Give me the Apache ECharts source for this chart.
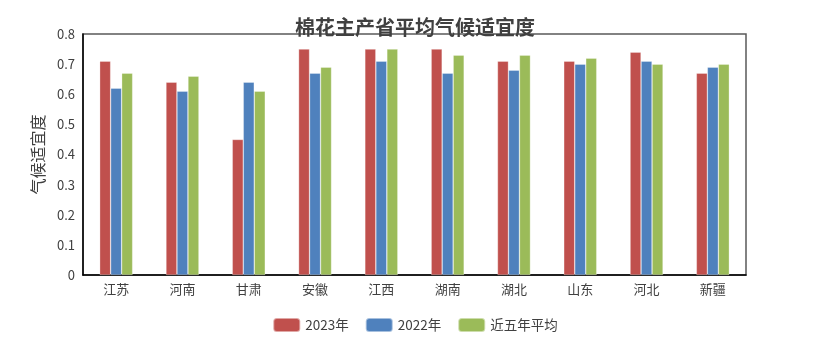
<!DOCTYPE html>
<html><head><meta charset="utf-8">
<script src="https://cdn.jsdelivr.net/npm/echarts@6/dist/echarts.min.js"></script>
<style>html,body{margin:0;padding:0;background:#fff}#c{width:830px;height:343px}</style>
</head><body><div id="c"></div>
<script>
const categories = ['江苏','河南','甘肃','安徽','江西','湖南','湖北','山东','河北','新疆'];
const seriesNames = ['2023年','2022年','近五年平均'];
const v2023 = [0.71,0.64,0.45,0.75,0.75,0.75,0.71,0.71,0.74,0.67];
const v2022 = [0.62,0.61,0.64,0.67,0.71,0.67,0.68,0.70,0.71,0.69];
const vAvg5 = [0.67,0.66,0.61,0.69,0.75,0.73,0.73,0.72,0.70,0.70];
const yTicks = [0,0.1,0.2,0.3,0.4,0.5,0.6,0.7,0.8];
const colors = ['#C0504D','#4F81BD','#9BBB59'];
const font = '"Noto Sans CJK SC","Noto Sans",sans-serif';
const chart = echarts.init(document.getElementById('c'));
const mk = (name, data, i) => ({
  name, type:'bar', data, barWidth:11, barGap:'0%',
  itemStyle:{color:colors[i], borderColor:'rgba(255,255,255,0.5)', borderWidth:0.6}
});
chart.setOption({
  animation:false,
  title:{text:'棉花主产省平均气候适宜度', left:'center', top:12,
    textStyle:{fontFamily:font, fontSize:20, fontWeight:'bold', color:'#404040'}},
  legend:{bottom:5, left:'center', itemWidth:27, itemHeight:14, itemGap:16,
    textStyle:{fontFamily:font, fontSize:13.5, color:'#404040'},
    data:seriesNames},
  grid:{left:83, right:84, top:34, bottom:68, show:true, borderColor:'#595959', borderWidth:1.5},
  xAxis:{type:'category', data:categories,
    axisLine:{lineStyle:{color:'#000', width:1.5}}, axisTick:{show:false},
    axisLabel:{fontFamily:font, fontSize:13, color:'#404040', margin:8}},
  yAxis:{type:'value', min:yTicks[0], max:yTicks[yTicks.length-1], interval:0.1,
    name:'气候适宜度', nameLocation:'middle', nameGap:36, nameRotate:90,
    nameTextStyle:{fontFamily:font, fontSize:16, color:'#404040'},
    axisLine:{show:true, lineStyle:{color:'#000', width:1.5}}, axisTick:{show:false},
    splitLine:{show:false},
    axisLabel:{fontFamily:font, fontSize:13, color:'#404040', margin:8,
      formatter:v=>String(Math.round(v*10)/10)}},
  series:[mk(seriesNames[0],v2023,0), mk(seriesNames[1],v2022,1), mk(seriesNames[2],vAvg5,2)]
});
</script></body></html>
